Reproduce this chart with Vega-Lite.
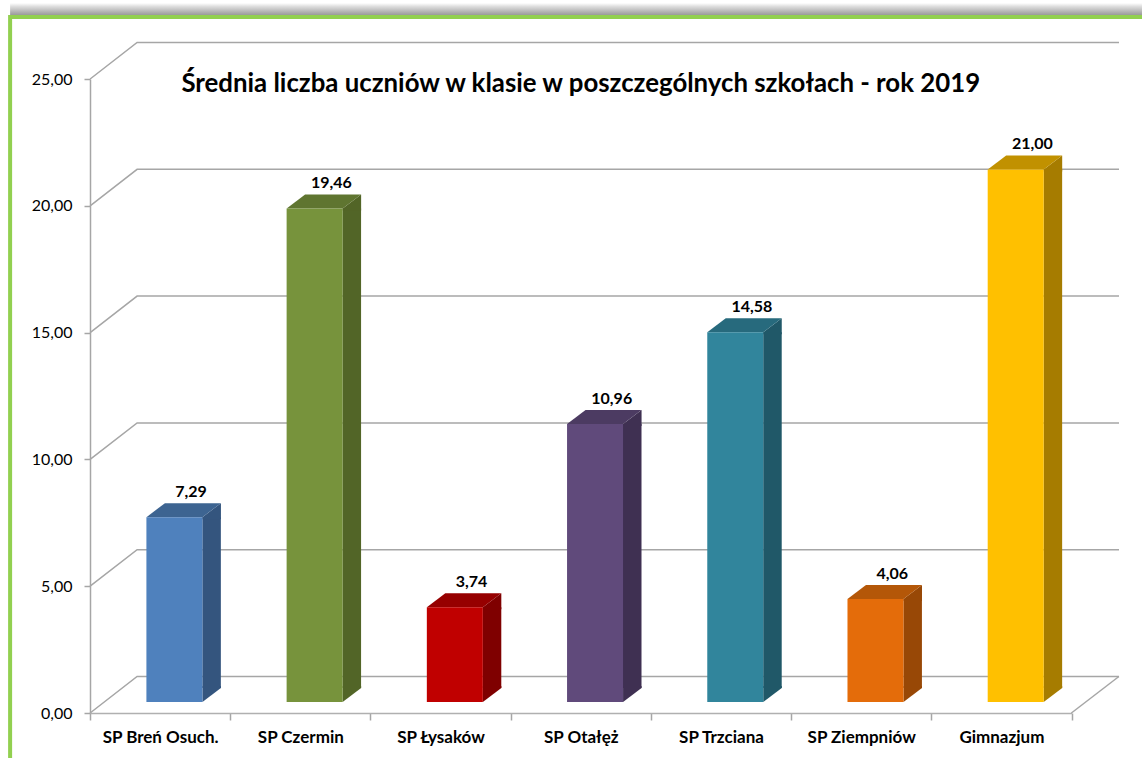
{"$schema":"https://vega.github.io/schema/vega-lite/v6.json","width":981.5,"height":634,"autosize":{"type":"none"},"padding":{"left":90,"top":79,"right":70.5,"bottom":45},"background":"white","config":{"view":{"stroke":null},"locale":{"number":{"decimal":",","thousands":" ","grouping":[3],"currency":["","zł"]}},"font":"Lato"},"title":{"text":"Średnia liczba uczniów w klasie w poszczególnych szkołach - rok 2019","font":"Lato","fontSize":25.8,"fontWeight":"bold","color":"#000000","anchor":"middle","offset":-95},"data":{"values":[{"school":"SP Breń Osuch.","value":7.29},{"school":"SP Czermin","value":19.46},{"school":"SP Łysaków","value":3.74},{"school":"SP Otałęż","value":10.96},{"school":"SP Trzciana","value":14.58},{"school":"SP Ziempniów","value":4.06},{"school":"Gimnazjum","value":21.0}]},"resolve":{"scale":{"color":"independent"}},"layer":[{"data":{"values":[{"level":0},{"level":5},{"level":10},{"level":15},{"level":20},{"level":25}]},"mark":{"type":"point","shape":"M-70,0L-23,-36.5L958.9,-36.5","size":4,"filled":false,"stroke":"#a6a6a6","strokeWidth":1.5,"opacity":1},"encoding":{"x":{"datum":"SP Breń Osuch.","type":"nominal","scale":{"domain":["SP Breń Osuch.","SP Czermin","SP Łysaków","SP Otałęż","SP Trzciana","SP Ziempniów","Gimnazjum"],"paddingInner":0,"paddingOuter":0},"axis":{"title":null,"labelAngle":0,"labelFont":"Lato","labelFontSize":17,"labelFontWeight":"bold","labelColor":"#000000","labelPadding":9,"tickBand":"extent","tickSize":7,"tickColor":"#a6a6a6","tickWidth":1.5,"domainColor":"#b0b0b0","domainWidth":1.5,"grid":false}},"y":{"field":"level","type":"quantitative","scale":{"domain":[0,25],"nice":false},"axis":{"title":null,"values":[0,5,10,15,20,25],"format":".2f","labelFont":"Lato","labelFontSize":16,"labelColor":"#000000","labelPadding":12,"tickSize":6,"tickColor":"#a6a6a6","tickWidth":1.5,"domainColor":"#a6a6a6","domainWidth":1.5,"grid":false}}}},{"data":{"values":[{"level":0}]},"mark":{"type":"point","shape":"M70,0L117.5,-36.5","size":4,"filled":false,"stroke":"#a6a6a6","strokeWidth":1.5,"opacity":1},"encoding":{"x":{"datum":"Gimnazjum","type":"nominal"},"y":{"field":"level","type":"quantitative"}}},{"data":{"values":[{"level":25}]},"mark":{"type":"point","shape":"M-150,-76L1000,-76L1000,-64L-150,-64Z","size":4,"filled":true,"strokeWidth":0,"opacity":1,"fill":{"x1":0,"y1":0,"x2":0,"y2":1,"gradient":"linear","stops":[{"offset":0,"color":"#ffffff"},{"offset":0.3,"color":"#dcdcdc"},{"offset":1,"color":"#9a9a9a"}]}},"encoding":{"x":{"datum":"SP Breń Osuch.","type":"nominal"},"y":{"field":"level","type":"quantitative"}}},{"data":{"values":[{"level":25}]},"mark":{"type":"point","shape":"M-150,690L-150,-62L1000,-62","size":4,"filled":false,"stroke":"#92d050","strokeWidth":4,"opacity":1},"encoding":{"x":{"datum":"SP Breń Osuch.","type":"nominal"},"y":{"field":"level","type":"quantitative"}}},{"mark":{"type":"bar","width":18.5,"xOffset":51.5,"yOffset":-11,"y2Offset":-25},"encoding":{"x":{"field":"school","type":"nominal"},"y":{"field":"value","type":"quantitative"},"y2":{"datum":0},"color":{"field":"school","type":"nominal","legend":null,"scale":{"domain":["SP Breń Osuch.","SP Czermin","SP Łysaków","SP Otałęż","SP Trzciana","SP Ziempniów","Gimnazjum"],"range":["#34557e","#526527","#7f0000","#3f3052","#205868","#984806","#a67c00"]}}}},{"mark":{"type":"point","shape":"M42.3,-11L60.8,-25L60.8,-9L42.3,-9Z","size":4,"filled":true,"strokeWidth":0,"opacity":1},"encoding":{"x":{"field":"school","type":"nominal"},"y":{"field":"value","type":"quantitative"},"color":{"field":"school","type":"nominal","legend":null,"scale":{"domain":["SP Breń Osuch.","SP Czermin","SP Łysaków","SP Otałęż","SP Trzciana","SP Ziempniów","Gimnazjum"],"range":["#34557e","#526527","#7f0000","#3f3052","#205868","#984806","#a67c00"]}}}},{"mark":{"type":"point","shape":"M42.3,-27L60.8,-27L60.8,-25L42.3,-11Z","size":4,"filled":true,"strokeWidth":0,"opacity":1},"encoding":{"x":{"field":"school","type":"nominal"},"y":{"datum":0},"color":{"field":"school","type":"nominal","legend":null,"scale":{"domain":["SP Breń Osuch.","SP Czermin","SP Łysaków","SP Otałęż","SP Trzciana","SP Ziempniów","Gimnazjum"],"range":["#34557e","#526527","#7f0000","#3f3052","#205868","#984806","#a67c00"]}}}},{"mark":{"type":"point","shape":"M-13.7,-11L4.8,-25L60.8,-25L42.3,-11Z","size":4,"filled":true,"strokeWidth":0,"opacity":1},"encoding":{"x":{"field":"school","type":"nominal"},"y":{"field":"value","type":"quantitative"},"color":{"field":"school","type":"nominal","legend":null,"scale":{"domain":["SP Breń Osuch.","SP Czermin","SP Łysaków","SP Otałęż","SP Trzciana","SP Ziempniów","Gimnazjum"],"range":["#3d6491","#5f7530","#960000","#4c3b62","#276a7d","#b45708","#c19100"]}}}},{"mark":{"type":"bar","width":56,"xOffset":14.3,"yOffset":-11,"y2Offset":-11},"encoding":{"x":{"field":"school","type":"nominal"},"y":{"field":"value","type":"quantitative"},"y2":{"datum":0},"color":{"field":"school","type":"nominal","legend":null,"scale":{"domain":["SP Breń Osuch.","SP Czermin","SP Łysaków","SP Otałęż","SP Trzciana","SP Ziempniów","Gimnazjum"],"range":["#4f81bd","#77933c","#c00000","#604a7b","#31859c","#e46c0a","#ffc000"]}}}},{"mark":{"type":"text","font":"Lato","fontSize":16,"fontWeight":"bold","color":"#000000","xOffset":31,"yOffset":-36,"baseline":"middle"},"encoding":{"x":{"field":"school","type":"nominal"},"y":{"field":"value","type":"quantitative"},"text":{"field":"value","type":"quantitative","format":".2f"}}}]}
